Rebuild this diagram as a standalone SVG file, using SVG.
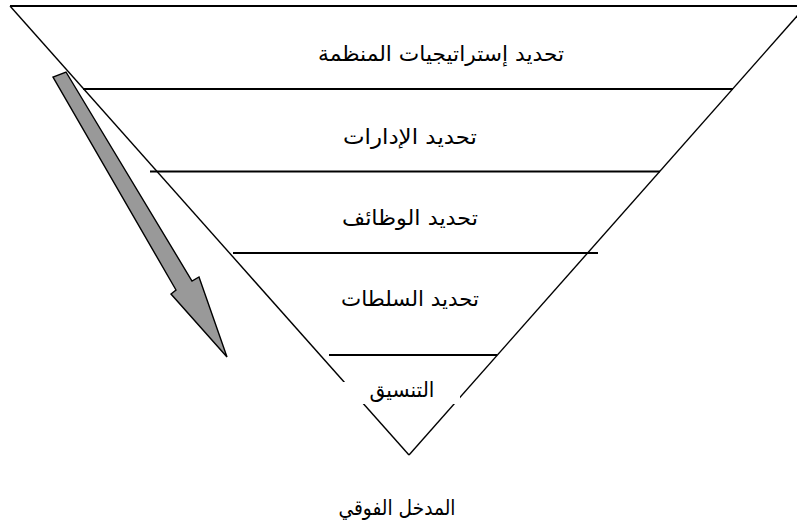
<svg xmlns="http://www.w3.org/2000/svg" width="797" height="525" viewBox="0 0 797 525">
<style>
.ln{stroke:#000;stroke-width:1.4;fill:none}
.hl{stroke:#000;stroke-width:1.8;fill:none}
.t{font-family:"DejaVu Sans","Noto Sans",sans-serif;font-size:21px;fill:#000;text-anchor:middle}
</style>
<rect width="797" height="525" fill="#fff"/>
<g id="funnel">
<line class="hl" x1="10" y1="6" x2="797" y2="6"/>
<line class="ln" x1="10" y1="6" x2="409" y2="455"/>
<line class="ln" x1="806" y1="6" x2="409" y2="455"/>
</g>
<g id="connectors">
<line class="hl" x1="83" y1="89" x2="733" y2="89"/>
<line class="hl" x1="150" y1="171.5" x2="660" y2="171.5"/>
<line class="hl" x1="233" y1="253" x2="598" y2="253"/>
<line class="hl" x1="329" y1="355" x2="497" y2="355"/>
<polygon points="66,72 192,281 199,277 227,357 171,294 176,290 53,77" fill="#999" stroke="#000" stroke-width="1.4" stroke-linejoin="miter"/>
</g>
<g id="n1"><text class="t" x="441" y="61" textLength="246" lengthAdjust="spacingAndGlyphs">تحديد إستراتيجيات المنظمة</text></g>
<g id="n2"><text class="t" x="410" y="144" textLength="134" lengthAdjust="spacingAndGlyphs">تحديد الإدارات</text></g>
<g id="n3"><text class="t" x="410" y="225" textLength="136" lengthAdjust="spacingAndGlyphs">تحديد الوظائف</text></g>
<g id="n4"><text class="t" x="410" y="306" textLength="138" lengthAdjust="spacingAndGlyphs">تحديد السلطات</text></g>
<g id="n5"><rect x="340" y="382" width="120" height="22" fill="#fff"/><text class="t" x="402" y="397" textLength="65" lengthAdjust="spacingAndGlyphs">التنسيق</text></g>
<g id="n6"><text class="t" x="397" y="515" textLength="117" lengthAdjust="spacingAndGlyphs">المدخل الفوقي</text></g>
</svg>
